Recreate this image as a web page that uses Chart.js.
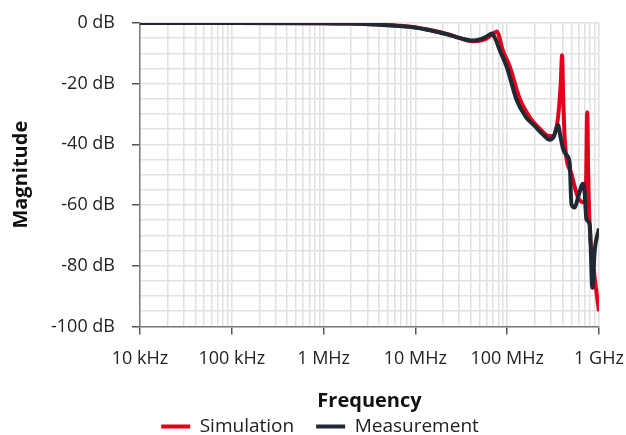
<!DOCTYPE html>
<html>
<head>
<meta charset="utf-8">
<script src="https://cdn.jsdelivr.net/npm/chart.js@4"></script>
<style>
  html, body { margin: 0; padding: 0; background: #fff; }
  #wrap { width: 626px; height: 435px; }
</style>
</head>
<body>
<div id="wrap"><canvas id="chart"></canvas></div>
<script>
// frequencies in MHz, magnitudes in dB
const simFreq = [0.01, 0.1, 1, 2, 4.1, 9.4, 14.4, 22, 30, 42, 57, 67, 77, 89.5, 107, 137, 180, 226, 270, 313, 355, 383, 396, 408, 424, 501, 591, 669, 708, 726, 744, 763, 792, 898, 1000];
const simMag  = [0, 0, -0.05, -0.2, -0.5, -1.3, -2.3, -3.6, -4.9, -6.0, -5.4, -4.0, -2.8, -9, -14.5, -25, -31.5, -34.8, -37, -37.3, -32, -20, -10.6, -25, -38.7, -49.8, -57.5, -59, -58, -50, -29.4, -50, -67, -84, -95];

const measFreq = [0.01, 0.1, 1, 2, 4.1, 9.4, 14.4, 22, 30, 42, 57, 68, 75, 83, 99, 127, 160, 200, 250, 290, 321, 358, 378, 406, 442, 480, 501, 544, 591, 669, 698, 729, 792, 847, 898, 1000];
const measMag  = [0, 0, -0.05, -0.2, -0.6, -1.4, -2.4, -3.7, -4.9, -5.8, -4.8, -3.5, -5.5, -9, -14.5, -25.5, -31, -34, -37, -38.5, -37.5, -33.6, -37, -41.5, -43.5, -46.4, -59.7, -60.8, -57.5, -53, -56, -64.7, -66.3, -87.3, -75, -67.7];

const seriesNames = ["Simulation", "Measurement"];
const seriesColors = ["#e2001a", "#1f2933"];

const xTickValues = [0.01, 0.1, 1, 10, 100, 1000];
const xTickLabels = ["10 kHz", "100 kHz", "1 MHz", "10 MHz", "100 MHz", "1 GHz"];
const yTickValues = [0, -20, -40, -60, -80, -100];

const toPoints = (xs, ys) => xs.map((x, i) => ({ x: x, y: ys[i] }));

const fontFamily = "'Open Sans', 'Noto Sans', sans-serif";
const textColor = "#222";
const gridColor = "#e1e1e1";

new Chart(document.getElementById("chart"), {
  type: "line",
  data: {
    datasets: [
      {
        label: seriesNames[0],
        data: toPoints(simFreq, simMag),
        borderColor: seriesColors[0],
        backgroundColor: seriesColors[0],
        borderWidth: 4,
        pointRadius: 0,
        cubicInterpolationMode: "monotone",
        order: 2
      },
      {
        label: seriesNames[1],
        data: toPoints(measFreq, measMag),
        borderColor: seriesColors[1],
        backgroundColor: seriesColors[1],
        borderWidth: 4,
        pointRadius: 0,
        cubicInterpolationMode: "monotone",
        order: 1
      }
    ]
  },
  options: {
    responsive: true,
    maintainAspectRatio: false,
    animation: false,
    // left padding nudges the legend centre right; the y axis takes the rest
    layout: { padding: { left: 14, right: 0, top: 23, bottom: -11 } },
    plugins: {
      tooltip: { enabled: false },
      legend: {
        position: "bottom",
        labels: {
          color: textColor,
          font: { family: fontFamily, size: 19 },
          boxWidth: 29,
          boxHeight: 4,
          padding: 22,
          sort: (a, b) => a.datasetIndex - b.datasetIndex,
          generateLabels: (chart) => {
            const items = Chart.defaults.plugins.legend.labels.generateLabels(chart);
            items.forEach(it => { it.lineWidth = 0; });
            return items;
          }
        }
      }
    },
    scales: {
      x: {
        type: "logarithmic",
        min: 0.01,
        max: 1000,
        afterBuildTicks: (scale) => {
          const ticks = [];
          xTickValues.forEach((d, i) => {
            ticks.push({ value: d });
            if (i < xTickValues.length - 1) {
              for (let m = 2; m <= 9; m++) ticks.push({ value: d * m });
            }
          });
          scale.ticks = ticks;
        },
        afterFit: (scale) => { scale.paddingLeft = 0; scale.paddingRight = 27; },
        ticks: {
          autoSkip: false,
          maxRotation: 0,
          color: textColor,
          padding: 14,
          font: { family: fontFamily, size: 18 },
          callback: (value) => {
            const i = xTickValues.findIndex(v => Math.abs(v - value) / v < 1e-6);
            return i >= 0 ? xTickLabels[i] : "";
          }
        },
        grid: {
          color: gridColor,
          lineWidth: 1.5,
          tickLength: 8,
          tickColor: (ctx) => {
            const v = ctx.tick ? ctx.tick.value : null;
            return xTickValues.some(d => Math.abs(d - v) / d < 1e-6) ? "#555" : "rgba(0,0,0,0)";
          }
        },
        border: { color: "#7a7a7a", width: 1.5 },
        title: {
          display: true,
          text: "Frequency",
          color: "#111",
          font: { family: fontFamily, size: 20, weight: "bold" },
          padding: { top: 5, bottom: -18 }
        }
      },
      y: {
        min: -100,
        max: 0,
        afterFit: (scale) => { scale.width = 126; scale.paddingTop = 0; scale.paddingBottom = 0; },
        ticks: {
          stepSize: 5,
          autoSkip: false,
          color: textColor,
          padding: 17,
          font: { family: fontFamily, size: 18 },
          callback: (value) => yTickValues.includes(value) ? value + " dB" : ""
        },
        grid: {
          color: gridColor,
          lineWidth: 1.5,
          tickLength: 8,
          tickColor: (ctx) => {
            const v = ctx.tick ? ctx.tick.value : null;
            return yTickValues.includes(v) ? "#555" : "rgba(0,0,0,0)";
          }
        },
        border: { color: "#7a7a7a", width: 1.5 },
        title: {
          display: true,
          text: "Magnitude",
          color: "#111",
          font: { family: fontFamily, size: 20, weight: "bold" },
          padding: { top: -5, bottom: 0 }
        }
      }
    }
  }
});
</script>
</body>
</html>
